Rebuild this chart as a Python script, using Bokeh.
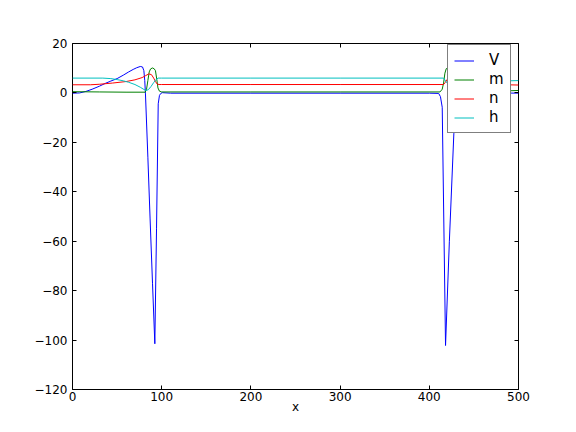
from bokeh.plotting import figure
from bokeh.models import (Range1d, FixedTicker, LinearAxis, Legend, LegendItem,
                          CustomJSTickFormatter)
from bokeh.embed import file_html
from bokeh.resources import INLINE

# ---- data ----
t_V = [0, 8, 15, 22, 30, 37, 43, 50, 57, 63, 68, 72, 76, 78.5, 80, 81, 81.8,
       84.5, 87, 89.7, 92.3, 94.2, 96.1, 97.5, 99, 100.6, 110, 200, 300, 400,
       410.5, 412.5, 414.5, 418.2, 422.5, 427.5, 430, 433, 437, 450, 480, 500]
V = [-0.1, 0.0, 0.6, 1.5, 2.7, 3.9, 4.8, 5.8, 7.2, 8.5, 9.5, 10.2, 10.7, 10.5,
     9.0, 5.0, -0.4, -26, -51, -77, -101.5, -55, -4.4, -1.0, -0.2, 0.1, -0.1,
     -0.1, -0.1, -0.1, -0.2, -1.5, -5.8, -102.2, -60, -16.6, -6, -1.5, 0.0,
     0.2, 0.0, -0.1]

t_m = [0, 30, 60, 81.5, 83, 84.5, 86, 87.5, 89.5, 91.5, 93, 94.5, 95.8, 97.5,
       100, 200, 300, 412, 414.5, 416, 417.5, 419, 421, 426, 429, 432, 470, 500]
m = [0.5, 0.4, 0.3, 0.3, 1.5, 5.0, 8.5, 9.7, 10.1, 9.8, 9.0, 5.5, 2.0, 0.7,
     0.4, 0.4, 0.4, 0.4, 1.5, 4.0, 8.0, 9.8, 10.2, 9.0, 2.0, 0.6, 0.6, 1.0]

t_n = [0, 20, 30, 45, 60, 70, 78, 82, 85.5, 88.5, 91, 93, 95, 97, 100, 200,
       300, 416, 418, 420, 425, 430, 440, 470, 500]
n = [3.3, 3.3, 3.5, 4.0, 4.6, 5.3, 6.2, 7.0, 7.7, 7.4, 6.0, 4.6, 3.6, 3.4,
     3.4, 3.4, 3.4, 3.4, 4.3, 5.5, 6.5, 5.0, 4.0, 3.4, 3.2]

t_h = [0, 34, 43, 50, 57, 63, 70, 76, 80, 82.5, 85, 88, 91, 93.5, 96, 100,
       200, 300, 416, 419, 423, 428, 435, 460, 500]
h = [6.0, 6.0, 5.8, 5.4, 4.9, 4.3, 3.4, 2.3, 1.4, 1.0, 1.3, 2.6, 4.2, 5.4,
     6.0, 6.0, 6.0, 6.0, 6.0, 4.5, 2.5, 2.0, 3.5, 4.6, 5.0]

labels = ["V", "m", "n", "h"]
colors = ["#0000ff", "#008000", "#ff0000", "#00bfbf"]
x_ticks = [0, 100, 200, 300, 400, 500]
y_ticks = [-120, -100, -80, -60, -40, -20, 0, 20]
x_label = "x"

FONT = "DejaVu Sans"

p = figure(width=566, height=424, x_range=Range1d(0, 500),
           y_range=Range1d(-120, 20), output_backend="svg",
           toolbar_location=None, min_border_left=72, min_border_right=48,
           min_border_top=43, min_border_bottom=35)
p.grid.visible = False
p.outline_line_color = "black"
p.outline_line_width = 1
p.background_fill_color = "white"
p.border_fill_color = "white"

fmt = CustomJSTickFormatter(code="return (tick < 0 ? '\u2212' : '') + Math.abs(tick).toFixed(0);")

def style_axis(ax, ticks, show_labels, standoff):
    ax.ticker = FixedTicker(ticks=ticks)
    ax.axis_line_color = None
    ax.major_tick_in = 4
    ax.major_tick_out = 0
    ax.major_tick_line_color = "black"
    ax.major_tick_line_width = 1
    ax.minor_tick_line_color = None
    ax.major_label_text_font = FONT
    ax.major_label_text_font_size = "12px"
    ax.major_label_text_color = "black" if show_labels else None
    ax.major_label_standoff = standoff
    ax.formatter = fmt

style_axis(p.xaxis[0], x_ticks, True, 2)
style_axis(p.yaxis[0], y_ticks, True, 5)
p.xaxis[0].axis_label = x_label
p.xaxis[0].axis_label_text_font = FONT
p.xaxis[0].axis_label_text_font_size = "12px"
p.xaxis[0].axis_label_text_font_style = "normal"
p.xaxis[0].axis_label_text_color = "black"
p.xaxis[0].axis_label_standoff = -4

top_ax = LinearAxis()
style_axis(top_ax, x_ticks, False, 0)
p.add_layout(top_ax, "above")
right_ax = LinearAxis()
style_axis(right_ax, y_ticks, False, 0)
p.add_layout(right_ax, "right")

series = [(t_V, V), (t_m, m), (t_n, n), (t_h, h)]
items = []
for (tx, ty), lab, col in zip(series, labels, colors):
    r = p.line(tx, ty, line_color=col, line_width=1)
    items.append(LegendItem(label=lab, renderers=[r]))

legend = Legend(items=items, location=(375, 256))
legend.label_text_font = FONT
legend.label_text_font_size = "15px"
legend.label_text_color = "black"
legend.glyph_width = 20
legend.glyph_height = 17
legend.label_height = 17
legend.label_width = 12
legend.label_standoff = 15
legend.padding = 6
legend.spacing = 1
legend.margin = 0
legend.border_line_color = "black"
legend.border_line_width = 1
legend.background_fill_color = "white"
legend.background_fill_alpha = 1.0
p.add_layout(legend, "center")

open("out.html", "w").write(file_html(p, INLINE))
